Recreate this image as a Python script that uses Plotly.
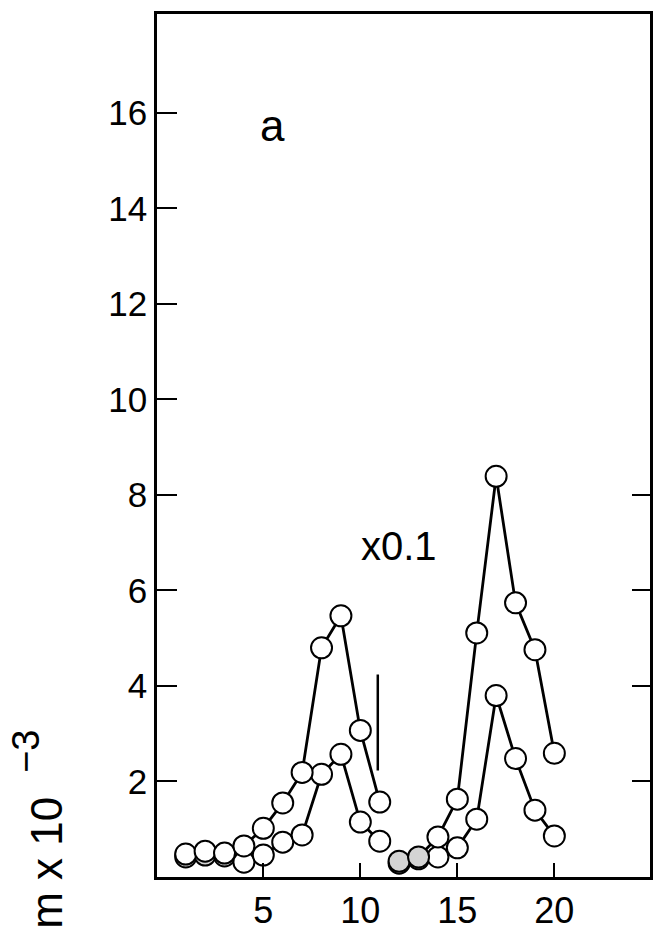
import plotly.graph_objects as go

# Fraction numbers (two groups separated by the vertical bar)
fractions_1 = [1, 2, 3, 4, 5, 6, 7, 8, 9, 10, 11]
fractions_2 = [12, 13, 14, 15, 16, 17, 18, 19, 20]

# Upper curve (first and second group)
upper_1 = [0.48, 0.54, 0.50, 0.65, 1.02, 1.55, 2.19, 4.80, 5.47, 3.07, 1.57]
upper_2 = [0.33, 0.42, 0.84, 1.63, 5.11, 8.39, 5.74, 4.76, 2.59]

# Lower curve (first and second group)
lower_1 = [0.42, 0.46, 0.44, 0.31, 0.46, 0.73, 0.88, 2.15, 2.57, 1.15, 0.75]
lower_2 = [0.29, 0.38, 0.42, 0.61, 1.21, 3.80, 2.48, 1.40, 0.86]

# Separator bar
bar_x = [10.9, 10.9]
bar_y = [2.23, 4.24]

x_ticks = [5, 10, 15, 20]
y_ticks_left = [2, 4, 6, 8, 10, 12, 14, 16]
y_ticks_right = [2, 4, 6, 8]

FONT = "Liberation Sans"
WHITE = "white"
SHADE = "#d4d4d4"


def marker(n, shaded=()):
    colors = [SHADE if i in shaded else WHITE for i in range(n)]
    return dict(symbol="circle", size=21, color=colors,
                line=dict(color="black", width=2))


fig = go.Figure()

line_style = dict(color="black", width=2.8)

fig.add_trace(go.Scatter(x=bar_x, y=bar_y, mode="lines",
                         line=dict(color="black", width=2.5), showlegend=False))

fig.add_trace(go.Scatter(x=fractions_1, y=lower_1, mode="lines+markers",
                         line=line_style, marker=marker(len(lower_1), shaded=(0, 1, 2)),
                         showlegend=False))
fig.add_trace(go.Scatter(x=fractions_1, y=upper_1, mode="lines+markers",
                         line=line_style, marker=marker(len(upper_1)),
                         showlegend=False))
fig.add_trace(go.Scatter(x=fractions_2, y=lower_2, mode="lines+markers",
                         line=line_style, marker=marker(len(lower_2), shaded=(0, 1)),
                         showlegend=False))
fig.add_trace(go.Scatter(x=fractions_2, y=upper_2, mode="lines+markers",
                         line=line_style, marker=marker(len(upper_2), shaded=(0, 1)),
                         showlegend=False))

# invisible trace to activate the right-hand axis
fig.add_trace(go.Scatter(x=[fractions_1[0]], y=[upper_1[0]], yaxis="y2",
                         mode="markers", marker=dict(opacity=0), showlegend=False,
                         hoverinfo="skip"))

fig.update_layout(
    width=656, height=934,
    margin=dict(l=157, r=3, t=14, b=56),
    paper_bgcolor="white", plot_bgcolor="white",
    font=dict(family=FONT, color="black", size=36),
    xaxis=dict(range=[-0.48, 24.93], tickvals=x_ticks, ticks="inside", ticklen=14,
               tickwidth=2, tickcolor="black", showline=True, linewidth=2.5,
               linecolor="black", mirror=True, showgrid=False, zeroline=False,
               tickfont=dict(size=36, family=FONT)),
    yaxis=dict(range=[0, 18.07], tickvals=y_ticks_left, ticks="inside", ticklen=20,
               tickwidth=2, tickcolor="black", showline=True, linewidth=2.5,
               linecolor="black", mirror=True, showgrid=False, zeroline=False,
               tickfont=dict(size=35, family=FONT)),
    yaxis2=dict(range=[0, 18.07], overlaying="y", side="right", tickvals=y_ticks_right,
                ticks="inside", ticklen=18, tickwidth=2, tickcolor="black",
                showticklabels=False, showline=False, showgrid=False, zeroline=False),
    annotations=[
        dict(text="a", xref="paper", yref="paper", x=0.204, y=0.902,
             showarrow=False, font=dict(size=44, family=FONT)),
        dict(text="x0.1", xref="paper", yref="paper", x=0.49, y=0.384,
             showarrow=False, font=dict(size=40, family=FONT)),
        dict(text="m x 10", xref="paper", yref="paper", x=-0.224, y=0.016,
             textangle=-90, showarrow=False, font=dict(size=44, family=FONT),
             xanchor="center", yanchor="middle"),
        dict(text="\u22123", xref="paper", yref="paper", x=-0.266, y=0.146,
             textangle=-90, showarrow=False, font=dict(size=38, family=FONT),
             xanchor="center", yanchor="middle"),
    ],
)

fig.write_html("out.html")
